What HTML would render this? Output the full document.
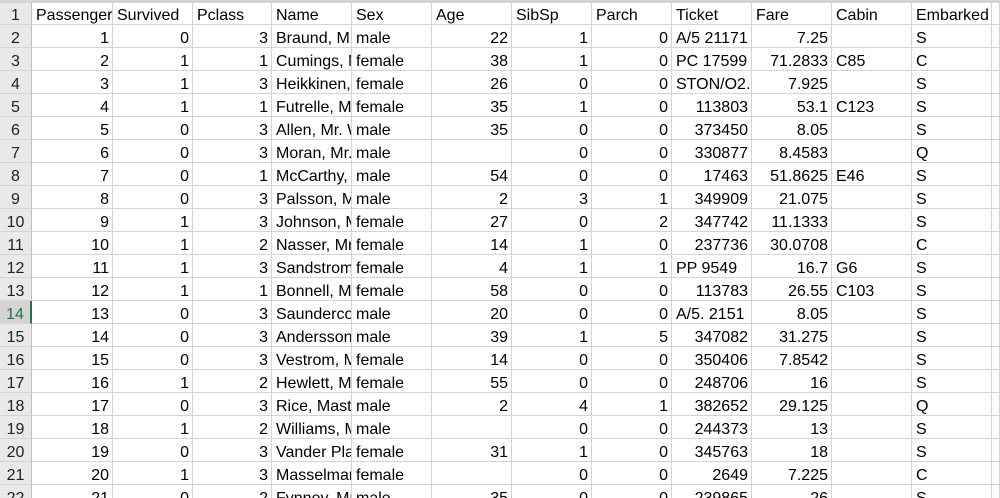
<!DOCTYPE html>
<html><head><meta charset="utf-8"><style>
html,body{margin:0;padding:0;background:#fff;width:1000px;height:498px;overflow:hidden;position:relative;font-family:"Liberation Sans","Noto Sans CJK SC",sans-serif;font-size:16px;color:#000}
.c{position:absolute;box-sizing:border-box;border-right:1px solid #d4d4d4;border-bottom:1px solid #d4d4d4;overflow:hidden;white-space:nowrap;line-height:22px;padding:3px 3px 0 4px}
.h{background:#e9e9e9;text-align:center;padding:3px 0 0 0;border-right:1px solid #bdbdbd;color:#222}
.sel{background:#d3d3d3;color:#217346;border-right:2px solid #217346}
.r{text-align:right}
</style></head><body>
<div id="grid"></div>
<script>
const colEdges=[0,32,113,193,272,352,432,512,592,672,752,832,912,992,1000];
const headers=["PassengerId","Survived","Pclass","Name","Sex","Age","SibSp","Parch","Ticket","Fare","Cabin","Embarked",""];
const rightCols=[0,1,2,5,6,7,9];
const rows=[
[1,0,3,"Braund, Mr. Owen Harris","male",22,1,0,"A/5 21171",7.25,"","S"],
[2,1,1,"Cumings, Mrs. John Bradley","female",38,1,0,"PC 17599","71.2833","C85","C"],
[3,1,3,"Heikkinen, Miss. Laina","female",26,0,0,"STON/O2. 3101282","7.925","","S"],
[4,1,1,"Futrelle, Mrs. Jacques Heath","female",35,1,0,"113803","53.1","C123","S"],
[5,0,3,"Allen, Mr. William Henry","male",35,0,0,"373450","8.05","","S"],
[6,0,3,"Moran, Mr. James","male","",0,0,"330877","8.4583","","Q"],
[7,0,1,"McCarthy, Mr. Timothy J","male",54,0,0,"17463","51.8625","E46","S"],
[8,0,3,"Palsson, Master. Gosta Leonard","male",2,3,1,"349909","21.075","","S"],
[9,1,3,"Johnson, Mrs. Oscar W","female",27,0,2,"347742","11.1333","","S"],
[10,1,2,"Nasser, Mrs. Nicholas","female",14,1,0,"237736","30.0708","","C"],
[11,1,3,"Sandstrom, Miss. Marguerite","female",4,1,1,"PP 9549","16.7","G6","S"],
[12,1,1,"Bonnell, Miss. Elizabeth","female",58,0,0,"113783","26.55","C103","S"],
[13,0,3,"Saundercock, Mr. William","male",20,0,0,"A/5. 2151","8.05","","S"],
[14,0,3,"Andersson, Mr. Anders","male",39,1,5,"347082","31.275","","S"],
[15,0,3,"Vestrom, Miss. Hulda","female",14,0,0,"350406","7.8542","","S"],
[16,1,2,"Hewlett, Mrs. (Mary D)","female",55,0,0,"248706","16","","S"],
[17,0,3,"Rice, Master. Eugene","male",2,4,1,"382652","29.125","","Q"],
[18,1,2,"Williams, Mr. Charles","male","",0,0,"244373","13","","S"],
[19,0,3,"Vander Planke, Mrs.","female",31,1,0,"345763","18","","S"],
[20,1,3,"Masselmani, Mrs. Fatima","female","",0,0,"2649","7.225","","C"],
[21,0,2,"Fynney, Mr. Joseph J","male",35,0,0,"239865","26","","S"]
];
const g=document.getElementById('grid');
function cell(x,y,w,h,txt,cls){const d=document.createElement('div');d.className='c '+cls;d.style.left=x+'px';d.style.top=y+'px';d.style.width=w+'px';d.style.height=h+'px';d.textContent=txt;g.appendChild(d);return d;}
const top0=2,rh=23;
for(let r=0;r<22;r++){
  const y=top0+r*rh;
  const hd=cell(0,y,32,rh,String(r+1),'h'+(r===13?' sel':''));
  
  
  for(let c=0;c<13;c++){
    const x=colEdges[c+1],w=colEdges[c+2]-colEdges[c+1];
    let txt='';
    if(r===0)txt=headers[c];else if(c<12)txt=String(rows[r-1][c]);
    const isNum=r>0&&(rightCols.includes(c)||(c===8&&/^\d+$/.test(txt)));
    const d=cell(x,y,w,rh,txt,isNum?'r':'');
    
    
  }
}
const t=cell(0,0,1000,2,'','');t.style.border='none';t.style.background='#d4d4d4';t.style.height='1px';


</script>
</body></html>
